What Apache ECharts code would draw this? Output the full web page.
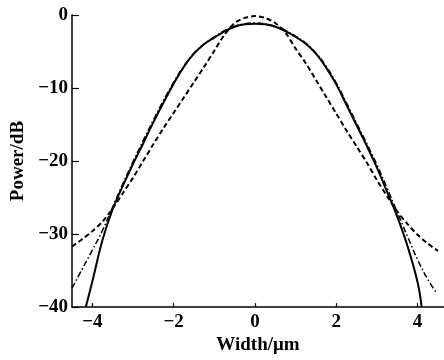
<!DOCTYPE html>
<html>
<head>
<meta charset="utf-8">
<script src="https://cdn.jsdelivr.net/npm/echarts@6/dist/echarts.min.js"></script>
<style>
html,body{margin:0;padding:0;background:#fff;}
#c{width:444px;height:360px;}
</style>
</head>
<body>
<div id="c"></div>
<script>
// Tick labels
const xTicks = [-4, -2, 0, 2, 4];
const yTicks = [0, -10, -20, -30, -40];

// Solid curve
const solidX = [-4.16, -4.0, -3.75, -3.5, -3.25, -3.0, -2.75, -2.5, -2.25, -2.0, -1.75, -1.5, -1.25, -1.0, -0.75, -0.5, -0.25, 0,
                0.25, 0.5, 0.75, 1.0, 1.25, 1.5, 1.75, 2.0, 2.25, 2.5, 2.75, 3.0, 3.25, 3.5, 3.75, 4.0, 4.1];
const solidY = [-40, -36.5, -30.8, -26.6, -23.4, -20.4, -17.6, -14.7, -12.0, -9.4, -7.1, -5.3, -4.0, -3.1, -2.25, -1.6, -1.28, -1.2,
                -1.28, -1.6, -2.2, -3.0, -3.95, -5.3, -7.2, -9.5, -12.3, -15.1, -17.9, -20.9, -24.2, -27.6, -31.6, -36.6, -40];

// Dashed curve
const dashX = [-4.5, -4.25, -4.0, -3.75, -3.5, -3.25, -3.0, -2.75, -2.5, -2.25, -2.0, -1.75, -1.5, -1.25, -1.0, -0.75, -0.5, -0.25, 0,
               0.25, 0.5, 0.75, 1.0, 1.25, 1.5, 1.75, 2.0, 2.25, 2.5, 2.75, 3.0, 3.25, 3.5, 3.75, 4.0, 4.25, 4.5];
const dashY = [-31.7, -30.7, -29.6, -28.3, -26.5, -24.4, -22.3, -20.0, -17.7, -15.5, -13.4, -11.3, -9.2, -7.1, -4.9, -2.7, -1.1, -0.4, -0.15,
               -0.4, -1.1, -2.4, -4.6, -6.6, -8.9, -11.2, -13.5, -15.8, -18.0, -20.2, -22.6, -24.8, -26.9, -28.6, -30.1, -31.3, -32.3];

// Dash-dot curve
const dotX = [-4.5, -4.25, -4.0, -3.75, -3.5, -3.25, -3.0, -2.75, -2.5, -2.25, -2.0, -1.75, -1.5, -1.25, -1.0, -0.75, -0.5, -0.25, 0,
              0.25, 0.5, 0.75, 1.0, 1.25, 1.5, 1.75, 2.0, 2.25, 2.5, 2.75, 3.0, 3.25, 3.5, 3.75, 4.0, 4.25, 4.47];
const dotY = [-37.4, -34.8, -32.2, -29.5, -26.3, -23.1, -20.1, -17.2, -14.4, -11.7, -9.2, -7.0, -5.2, -3.95, -3.0, -2.15, -1.55, -1.2, -1.1,
              -1.2, -1.55, -2.1, -2.9, -3.85, -5.2, -7.0, -9.3, -12.0, -14.8, -17.6, -20.5, -23.7, -27.0, -30.3, -33.5, -36.2, -38.1];

const pairs = (xs, ys) => xs.map((x, i) => [x, ys[i]]);
const FONT = 'Liberation Serif';
const minus = v => String(v).replace('-', '\u2212');
const txt = {fontFamily: FONT, fontSize: 19, fontWeight: 'bold', color: '#000'};

const chart = echarts.init(document.getElementById('c'), null, {renderer: 'canvas'});
chart.setOption({
  animation: false,
  backgroundColor: '#fff',
  grid: {left: 72, right: 0, top: 15, bottom: 50, containLabel: false},
  xAxis: {
    type: 'value', min: -4.5, max: 4.65,
    name: 'Width/\u03bcm', nameLocation: 'middle', nameGap: 21,
    nameTextStyle: txt,
    axisLine: {onZero: false, lineStyle: {color: '#000', width: 1.5}},
    axisTick: {inside: true, length: 4, customValues: xTicks, lineStyle: {color: '#000', width: 1.2}},
    axisLabel: Object.assign({customValues: xTicks, formatter: minus, margin: 5}, txt),
    splitLine: {show: false}
  },
  yAxis: {
    type: 'value', min: -40, max: 0, interval: 10,
    name: 'Power/dB', nameLocation: 'middle', nameGap: 41,
    nameTextStyle: txt,
    axisLine: {onZero: false, lineStyle: {color: '#000', width: 1.5}},
    axisTick: {inside: true, length: 7, lineStyle: {color: '#000', width: 1.2}},
    axisLabel: Object.assign({formatter: minus, margin: 4}, txt),
    splitLine: {show: false}
  },
  series: [
    {type: 'line', data: pairs(solidX, solidY), showSymbol: false, smooth: 0.4,
     lineStyle: {color: '#000', width: 2}},
    {type: 'line', data: pairs(dashX, dashY), showSymbol: false, smooth: 0.3,
     lineStyle: {color: '#000', width: 2, type: [5, 3]}},
    {type: 'line', data: pairs(dotX, dotY), showSymbol: false, smooth: 0.4,
     lineStyle: {color: '#000', width: 1.5, type: [6, 2.5, 1.5, 2.5]}}
  ]
});
</script>
</body>
</html>
